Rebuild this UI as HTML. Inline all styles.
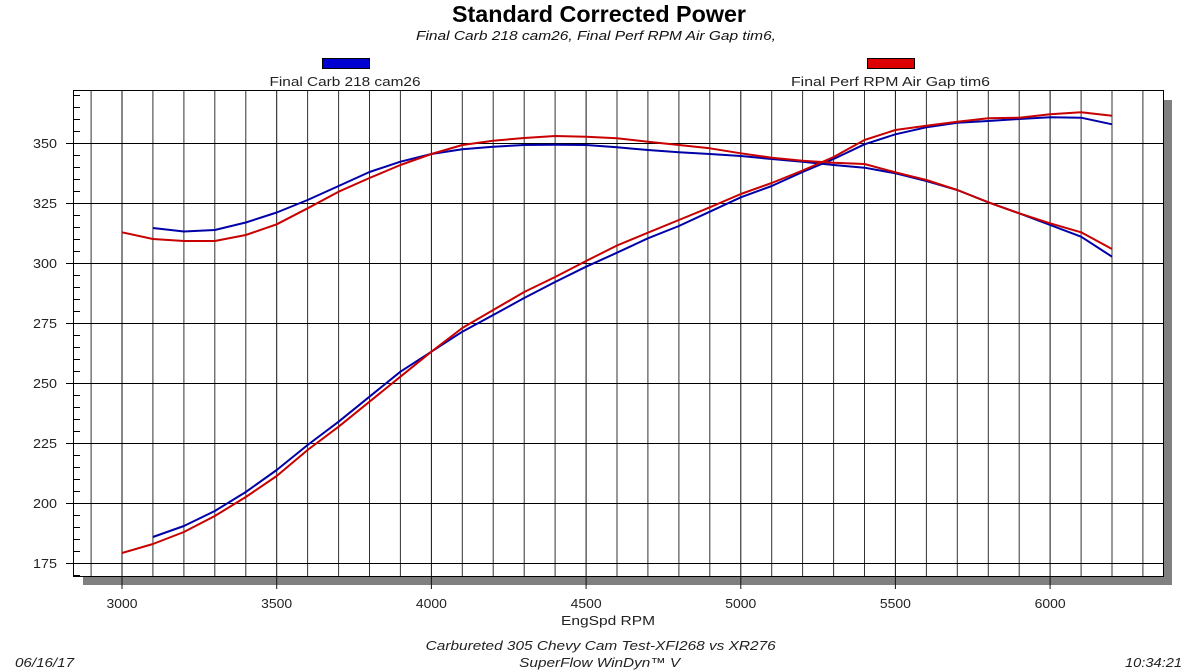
<!DOCTYPE html>
<html>
<head>
<meta charset="utf-8">
<style>
html,body{margin:0;padding:0;background:#fff;}
svg{display:block;}
text{font-family:"Liberation Sans",Arial,sans-serif;}
</style>
</head>
<body>
<svg width="1200" height="671" viewBox="0 0 1200 671" xmlns="http://www.w3.org/2000/svg">
<rect x="0" y="0" width="1200" height="671" fill="#fff"/>

<!-- Title -->
<text x="599" y="22" font-size="23" font-weight="bold" text-anchor="middle" textLength="294" lengthAdjust="spacingAndGlyphs" fill="#000">Standard Corrected Power</text>
<text x="596" y="40" font-size="12.5" font-style="italic" text-anchor="middle" textLength="360" lengthAdjust="spacingAndGlyphs" fill="#111">Final Carb 218 cam26,  Final Perf RPM Air Gap tim6,</text>

<!-- Legend -->
<rect x="322.5" y="58.5" width="47" height="10" fill="#0000d0" stroke="#000" stroke-width="1"/>
<text x="345" y="86" font-size="13" text-anchor="middle" textLength="151" lengthAdjust="spacingAndGlyphs" fill="#222">Final Carb 218 cam26</text>
<rect x="867.5" y="58.5" width="47" height="10" fill="#dd0000" stroke="#000" stroke-width="1"/>
<text x="890.5" y="86" font-size="13" text-anchor="middle" textLength="199" lengthAdjust="spacingAndGlyphs" fill="#222">Final Perf RPM Air Gap tim6</text>

<!-- Shadow -->
<rect x="1163" y="100" width="9" height="485" fill="#808080"/>
<rect x="83" y="576" width="1089" height="9" fill="#808080"/>

<!-- Plot area -->
<rect x="73.5" y="90.5" width="1090" height="486" fill="#fff"/>

<!-- vertical grid -->
<path fill="none" stroke="#333" stroke-width="1" d="
M91.1 90V576 M152.9 90V576 M183.9 90V576 M214.8 90V576 M245.8 90V576
M307.6 90V576 M338.6 90V576 M369.5 90V576 M400.4 90V576
M462.3 90V576 M493.2 90V576 M524.2 90V576 M555.1 90V576
M617 90V576 M647.9 90V576 M678.9 90V576 M709.8 90V576
M771.7 90V576 M802.6 90V576 M833.6 90V576 M864.5 90V576
M926.4 90V576 M957.3 90V576 M988.3 90V576 M1019.2 90V576
M1081.1 90V576 M1112 90V576 M1142.9 90V576"/>

<!-- major vertical grid with ticks -->
<path fill="none" stroke="#111" stroke-width="1" d="
M122 90V589 M276.7 90V589 M431.4 90V589 M586.1 90V589 M740.8 90V589 M895.4 90V589 M1050.1 90V589"/>

<!-- horizontal grid -->
<path fill="none" stroke="#000" stroke-width="1" d="
M66 143.5H1163.5 M66 203.5H1163.5 M66 263.5H1163.5 M66 323.5H1163.5
M66 383.5H1163.5 M66 443.5H1163.5 M66 503.5H1163.5 M66 563.5H1163.5"/>

<!-- minor ticks -->
<path fill="none" stroke="#000" stroke-width="1" d="
M73.5 575.5H80 M73.5 551.5H80 M73.5 539.5H80 M73.5 527.5H80 M73.5 515.5H80
M73.5 491.5H80 M73.5 479.5H80 M73.5 467.5H80 M73.5 455.5H80
M73.5 431.5H80 M73.5 419.5H80 M73.5 407.5H80 M73.5 395.5H80
M73.5 371.5H80 M73.5 359.5H80 M73.5 347.5H80 M73.5 335.5H80
M73.5 311.5H80 M73.5 299.5H80 M73.5 287.5H80 M73.5 275.5H80
M73.5 251.5H80 M73.5 239.5H80 M73.5 227.5H80 M73.5 215.5H80
M73.5 191.5H80 M73.5 179.5H80 M73.5 167.5H80 M73.5 155.5H80
M73.5 131.5H80 M73.5 119.5H80 M73.5 107.5H80 M73.5 95.5H80"/>

<!-- frame -->
<rect x="73.5" y="90.5" width="1090" height="486" fill="none" stroke="#000" stroke-width="1"/>

<!-- Blue series -->
<polyline fill="none" stroke="#0000a8" stroke-width="2" stroke-linejoin="round" points="152.9,228 183.9,231.5 214.8,230 245.8,222.5 276.7,212.5 307.6,200 338.6,186 369.5,172 400.4,161.7 431.4,154 462.3,149.3 493.2,146.7 524.2,145 555.1,144.7 586.1,145 617,147.3 647.9,150 678.9,152.3 709.8,154 740.8,156 771.7,159 802.6,161.7 833.6,165 864.5,167.7 895.4,173.3 926.4,181 957.3,190 988.3,202.3 1019.2,213.3 1050.1,225 1081.1,236.7 1112,256.7"/>
<polyline fill="none" stroke="#0000a8" stroke-width="2" stroke-linejoin="round" points="152.9,537 183.9,526 214.8,511 245.8,492 276.7,470 307.6,445 338.6,421.7 369.5,396.7 400.4,371.7 431.4,351.7 462.3,331.7 493.2,315 524.2,298 555.1,282 586.1,266.7 617,252.7 647.9,238.3 678.9,226 709.8,211.7 740.8,197.3 771.7,186 802.6,172 833.6,159 864.5,144.3 895.4,134.3 926.4,127.3 957.3,122.7 988.3,121 1019.2,119 1050.1,117.3 1081.1,117.7 1112,124.3"/>

<!-- Red series -->
<polyline fill="none" stroke="#c80000" stroke-width="2" stroke-linejoin="round" points="122,232.3 152.9,239 183.9,241 214.8,241 245.8,235 276.7,224.3 307.6,208.3 338.6,191.7 369.5,178 400.4,165 431.4,154 462.3,145 493.2,140.7 524.2,138 555.1,136 586.1,136.7 617,138.3 647.9,141.7 678.9,145 709.8,148.3 740.8,153.3 771.7,157.7 802.6,160.7 833.6,162.7 864.5,164 895.4,172.3 926.4,180 957.3,190 988.3,202.3 1019.2,213.3 1050.1,223.3 1081.1,232.3 1112,249"/>
<polyline fill="none" stroke="#c80000" stroke-width="2" stroke-linejoin="round" points="122,553 152.9,544 183.9,532 214.8,516 245.8,497 276.7,476 307.6,450 338.6,426.7 369.5,401.7 400.4,376.7 431.4,351.7 462.3,328 493.2,310 524.2,292 555.1,277 586.1,261 617,245.5 647.9,232.7 678.9,220 709.8,207.3 740.8,194 771.7,183 802.6,170.5 833.6,157 864.5,140 895.4,130 926.4,125.7 957.3,121.7 988.3,118.3 1019.2,117.7 1050.1,114.3 1081.1,112.3 1112,115.7"/>

<!-- Y labels -->
<g font-size="13" fill="#222" text-anchor="end">
<text x="57" y="148" textLength="24" lengthAdjust="spacingAndGlyphs">350</text>
<text x="57" y="208" textLength="24" lengthAdjust="spacingAndGlyphs">325</text>
<text x="57" y="268" textLength="24" lengthAdjust="spacingAndGlyphs">300</text>
<text x="57" y="328" textLength="24" lengthAdjust="spacingAndGlyphs">275</text>
<text x="57" y="388" textLength="24" lengthAdjust="spacingAndGlyphs">250</text>
<text x="57" y="448" textLength="24" lengthAdjust="spacingAndGlyphs">225</text>
<text x="57" y="508" textLength="24" lengthAdjust="spacingAndGlyphs">200</text>
<text x="57" y="568" textLength="24" lengthAdjust="spacingAndGlyphs">175</text>
</g>

<!-- X labels -->
<g font-size="13" fill="#222" text-anchor="middle">
<text x="122" y="608" textLength="31" lengthAdjust="spacingAndGlyphs">3000</text>
<text x="276.7" y="608" textLength="31" lengthAdjust="spacingAndGlyphs">3500</text>
<text x="431.4" y="608" textLength="31" lengthAdjust="spacingAndGlyphs">4000</text>
<text x="586.1" y="608" textLength="31" lengthAdjust="spacingAndGlyphs">4500</text>
<text x="740.8" y="608" textLength="31" lengthAdjust="spacingAndGlyphs">5000</text>
<text x="895.4" y="608" textLength="31" lengthAdjust="spacingAndGlyphs">5500</text>
<text x="1050.1" y="608" textLength="31" lengthAdjust="spacingAndGlyphs">6000</text>
<text x="608" y="625" textLength="94" lengthAdjust="spacingAndGlyphs">EngSpd RPM</text>
</g>

<!-- Footer -->
<g font-size="13" fill="#222" font-style="italic">
<text x="600.7" y="650" text-anchor="middle" textLength="350" lengthAdjust="spacingAndGlyphs">Carbureted 305 Chevy Cam Test-XFI268 vs XR276</text>
<text x="599.7" y="667" text-anchor="middle" textLength="161" lengthAdjust="spacingAndGlyphs">SuperFlow WinDyn™ V</text>
<text x="15" y="667" textLength="59" lengthAdjust="spacingAndGlyphs">06/16/17</text>
<text x="1125" y="667" textLength="57" lengthAdjust="spacingAndGlyphs">10:34:21</text>
</g>
</svg>
</body>
</html>
